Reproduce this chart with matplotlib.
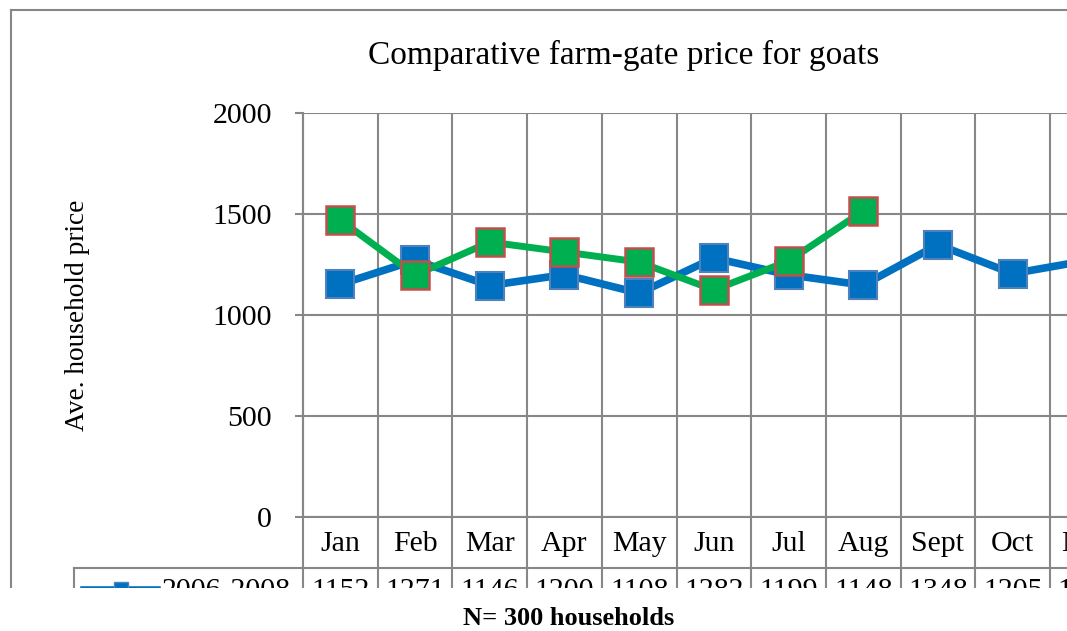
import matplotlib
matplotlib.use("Agg")
import matplotlib.pyplot as plt
import matplotlib.transforms as mtransforms
from matplotlib.lines import Line2D
from matplotlib.patches import Rectangle
import numpy as np

# ---------------- data ----------------
months = ["Jan", "Feb", "Mar", "Apr", "May", "Jun", "Jul", "Aug", "Sept", "Oct", "Nov"]
series_a_name = "2006-2008"
series_a = [1152, 1271, 1146, 1200, 1108, 1282, 1199, 1148, 1348, 1205, 1270]
series_b_name = "2009"
series_b = [1470, 1198, 1361, 1312, 1262, 1124, 1267, 1515, None, None, None]
y_ticks = [0, 500, 1000, 1500, 2000]
title = "Comparative farm-gate price for goats"
y_label = "Ave. household price"
note = "N= 300 households"

# ---------------- style ----------------
plt.rcParams['font.family'] = ['Liberation Serif', 'DejaVu Serif']
W, H = 1067, 631
GRID = '#878787'
GLW = 1.5
BLUE = '#0070C0'
BLUE_EDGE = '#4F81BD'
GREEN = '#00B050'
RED_EDGE = '#C0504D'
FS = 21.5

fig = plt.figure(figsize=(W / 100, H / 100), dpi=100)


def fx(px):
    return px / W


def fy(py):
    return 1 - py / H


col = 74.7
n = len(months)
ax_top, ax_bot = 113, 517
ax = fig.add_axes([fx(303), fy(ax_bot), n * col / W, (ax_bot - ax_top) / H])


def ya(py):
    return (ax_bot - py) / (ax_bot - ax_top)


x = np.arange(n)
ax.set_xlim(-0.5, n - 0.5)
ax.set_ylim(0, 2000)
ax.set_yticks(y_ticks)
ax.set_yticklabels([str(v) for v in y_ticks])
ax.set_xticks([])
ax.tick_params(axis='y', length=8 * 0.72, width=GLW, color=GRID, pad=16.5,
               labelsize=FS)
ax.grid(axis='y', color=GRID, lw=GLW)
ax.set_axisbelow(True)
for s in ['top', 'right']:
    ax.spines[s].set_visible(False)
for s in ['left', 'bottom']:
    ax.spines[s].set_color(GRID)
    ax.spines[s].set_linewidth(GLW)

blend = mtransforms.blended_transform_factory(ax.transData, ax.transAxes)
ax.vlines(np.arange(n + 1) - 0.5, ya(600), 1, transform=blend, colors=GRID,
          lw=GLW, clip_on=False, zorder=0.5)

# series
ya_vals = np.array(series_a, dtype=float)
yb_vals = np.array([np.nan if v is None else v for v in series_b], dtype=float)
ax.plot(x, ya_vals, color=BLUE, lw=5.5, marker='s', ms=20, mfc=BLUE,
        mec=BLUE_EDGE, mew=1.5, clip_on=False, zorder=3)
ax.plot(x, yb_vals, color=GREEN, lw=5, marker='s', ms=20, mfc=GREEN,
        mec=RED_EDGE, mew=1.8, clip_on=False, zorder=4)

# category row
for i, m in enumerate(months):
    ax.text(i, ya(544), m, transform=blend, ha='center', va='center',
            fontsize=FS, clip_on=False)

# data table row
fig.add_artist(Line2D([fx(74), fx(1200)], [fy(568), fy(568)], color=GRID, lw=GLW))
fig.add_artist(Line2D([fx(74), fx(74)], [fy(568), fy(600)], color=GRID, lw=GLW))
for i, v in enumerate(series_a):
    ax.text(i, ya(598), str(v), transform=blend, ha='center', va='baseline',
            fontsize=FS, clip_on=False)
fig.text(fx(162), fy(598), series_a_name, ha='left', va='baseline', fontsize=FS)
fig.add_artist(Line2D([fx(83), fx(158)], [fy(589), fy(589)], color=BLUE, lw=4))
fig.add_artist(Line2D([fx(121)], [fy(589)], color=BLUE, marker='s', ms=10,
                      mfc=BLUE, mec=BLUE_EDGE, mew=1))

# outer chart border
fig.add_artist(Line2D([fx(11), fx(11)], [fy(10), fy(600)], color=GRID, lw=GLW))
fig.add_artist(Line2D([fx(11), fx(1080)], [fy(10), fy(10)], color=GRID, lw=GLW))

# title & axis label
fig.text(fx(624), fy(64), title, ha='center', va='baseline', fontsize=24)
fig.text(fx(78), fy(315), y_label, rotation=90, ha='center', va='center',
         fontsize=19.7)

# crop of the lower part
fig.add_artist(Rectangle((0, 0), 1, fy(588), transform=fig.transFigure,
                         facecolor='white', edgecolor='none', zorder=50))
fig.text(fx(569), fy(625), note, ha='center', va='baseline', fontsize=19,
         fontweight='bold', zorder=60)

fig.savefig('out.png', dpi=100)
